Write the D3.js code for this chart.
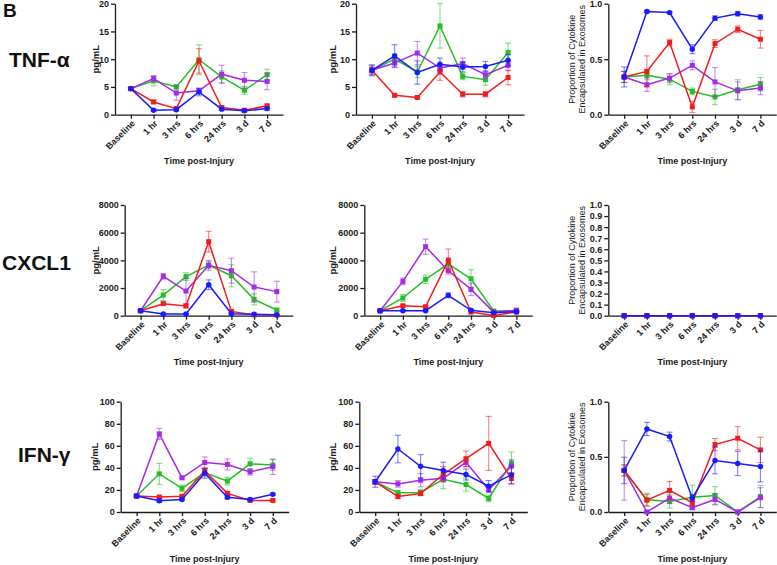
<!DOCTYPE html>
<html>
<head>
<meta charset="utf-8">
<script src="https://cdn.jsdelivr.net/npm/d3@7"></script>
<style>
  body { margin: 0; background: #fff; }
  svg { display: block; font-family: Arial, "Liberation Sans", sans-serif; }
</style>
</head>
<body>
<div id="chart"></div>
<script>
/*
 ************
 *** DATA ***
 ************
 */
var timepoints = ["Baseline", "1 hr", "3 hrs", "6 hrs", "24 hrs", "3 d", "7 d"];
var cytokines = ["TNF-\u03b1", "CXCL1", "IFN-\u03b3"];
// series order in every panel: blue, red, green, purple
var seriesNames = ["blue", "red", "green", "purple"];

var tnfTicks = [0, 5, 10, 15, 20];
var cxclTicks = [0, 2000, 4000, 6000, 8000];
var ifnTicks = [0, 20, 40, 60, 80, 100];
var propTicks = [0, 0.5, 1.0];
var propTicksFine = [0, 0.1, 0.2, 0.3, 0.4, 0.5, 0.6, 0.7, 0.8, 0.9, 1.0];

// --- TNF-alpha ---
var tnfLeftMean = [
  [4.7, 0.8, 0.9, 4.1, 1.0, 0.7, 1.1],
  [4.7, 2.3, 1.1, 9.7, 1.3, 0.8, 1.6],
  [4.7, 6.1, 5.0, 9.9, 6.8, 4.4, 7.2],
  [4.7, 6.5, 3.9, 4.3, 7.3, 6.2, 6.0],
];
var tnfLeftErr = [
  [0.2, 0.2, 0.2, 0.7, 0.2, 0.2, 0.3],
  [0.2, 0.3, 0.2, 2.2, 0.3, 0.2, 0.3],
  [0.2, 0.9, 0.4, 2.7, 1.1, 0.7, 1.0],
  [0.2, 0.5, 1.3, 0.4, 1.6, 1.4, 1.5],
];
var tnfMidMean = [
  [8.0, 10.6, 7.6, 9.1, 8.6, 8.7, 9.8],
  [8.0, 3.5, 3.1, 7.7, 3.7, 3.7, 6.7],
  [8.0, 10.0, 7.7, 16.0, 6.9, 6.3, 11.2],
  [8.0, 9.3, 11.1, 8.4, 9.2, 7.2, 8.9],
];
var tnfMidErr = [
  [1.0, 2.0, 2.1, 1.1, 0.9, 0.9, 1.0],
  [0.5, 0.3, 0.2, 1.5, 0.5, 0.5, 1.3],
  [0.8, 1.0, 1.0, 4.0, 0.6, 1.0, 1.7],
  [0.8, 0.8, 2.1, 0.6, 1.0, 0.7, 1.0],
];
var tnfRightMean = [
  [0.34, 0.93, 0.92, 0.59, 0.87, 0.91, 0.88],
  [0.34, 0.39, 0.65, 0.07, 0.64, 0.77, 0.68],
  [0.34, 0.355, 0.32, 0.21, 0.16, 0.225, 0.275],
  [0.34, 0.27, 0.33, 0.445, 0.295, 0.215, 0.24],
];
var tnfRightErr = [
  [0.09, 0.01, 0.01, 0.04, 0.02, 0.02, 0.02],
  [0.05, 0.14, 0.03, 0.05, 0.035, 0.03, 0.08],
  [0.05, 0.04, 0.05, 0.03, 0.07, 0.09, 0.06],
  [0.05, 0.06, 0.04, 0.04, 0.13, 0.08, 0.06],
];

// --- CXCL1 ---
var cxclLeftMean = [
  [360, 120, 120, 2240, 140, 100, 60],
  [360, 870, 700, 5350, 310, 60, 50],
  [360, 1490, 2820, 3660, 2890, 1180, 410],
  [360, 2840, 1780, 3640, 3250, 2070, 1740],
];
var cxclLeftErr = [
  [80, 40, 40, 350, 50, 30, 30],
  [80, 100, 100, 750, 80, 30, 30],
  [80, 400, 280, 250, 800, 400, 100],
  [80, 200, 900, 350, 900, 1100, 750],
];
var cxclMidMean = [
  [360, 360, 360, 1470, 390, 220, 290],
  [360, 720, 650, 4020, 260, 20, 260],
  [360, 1280, 2630, 3740, 2670, 340, 360],
  [360, 2480, 4990, 3250, 1900, 260, 400],
];
var cxclMidErr = [
  [60, 60, 60, 180, 60, 50, 60],
  [60, 80, 80, 800, 80, 20, 60],
  [60, 250, 300, 200, 650, 60, 60],
  [60, 250, 550, 250, 450, 60, 80],
];
var cxclRightMean = [
  [0, 0, 0, 0, 0, 0, 0],
  [0, 0, 0, 0, 0, 0, 0],
  [0, 0, 0, 0, 0, 0, 0],
  [0, 0, 0, 0, 0, 0, 0],
];
var cxclRightErr = [
  [0, 0, 0, 0, 0, 0, 0],
  [0, 0, 0, 0, 0, 0, 0],
  [0, 0, 0, 0, 0, 0, 0],
  [0, 0, 0, 0, 0, 0, 0],
];

// --- IFN-gamma ---
var ifnLeftMean = [
  [14.5, 10.2, 11.4, 35.2, 13.3, 11.4, 16.0],
  [14.5, 13.6, 14.2, 37.3, 16.9, 10.5, 10.5],
  [14.5, 34.6, 21.4, 35.8, 28.0, 43.7, 42.5],
  [14.5, 70.8, 31.0, 44.9, 43.1, 36.4, 41.0],
];
var ifnLeftErr = [
  [1.0, 1.5, 1.0, 4.5, 1.5, 1.0, 1.0],
  [1.0, 1.0, 1.0, 2.0, 1.5, 1.0, 1.0],
  [1.0, 9.5, 3.0, 3.0, 3.5, 5.0, 5.0],
  [1.0, 5.0, 1.0, 5.0, 5.0, 3.0, 7.0],
];
var ifnMidMean = [
  [27.4, 57.1, 41.5, 37.6, 34.0, 23.5, 33.7],
  [27.4, 14.1, 16.8, 34.2, 48.3, 62.2, 30.3],
  [27.4, 17.4, 17.7, 29.7, 24.9, 12.3, 44.5],
  [27.4, 25.5, 28.8, 30.6, 45.0, 20.1, 41.5],
];
var ifnMidErr = [
  [5.0, 12.5, 10.5, 7.5, 5.0, 5.0, 8.0],
  [2.0, 2.0, 2.0, 7.0, 7.0, 24.5, 5.0],
  [2.0, 2.0, 2.5, 8.5, 6.0, 3.0, 10.0],
  [2.0, 3.0, 6.0, 3.0, 4.0, 2.5, 6.0],
];
var ifnRightMean = [
  [0.377, 0.753, 0.684, 0.127, 0.467, 0.44, 0.413],
  [0.377, 0.108, 0.196, 0.084, 0.611, 0.669, 0.563],
  [0.377, 0.111, 0.096, 0.133, 0.15, 0.0, 0.14],
  [0.377, 0.0, 0.126, 0.04, 0.114, 0.0, 0.13],
];
var ifnRightErr = [
  [0.12, 0.06, 0.04, 0.03, 0.12, 0.11, 0.14],
  [0.05, 0.05, 0.08, 0.03, 0.055, 0.105, 0.115],
  [0.05, 0.06, 0.06, 0.11, 0.08, 0.0, 0.1],
  [0.27, 0.01, 0.05, 0.02, 0.05, 0.0, 0.09],
];

/*
 ************************
 *** HELPER FUNCTIONS ***
 ************************
 */
function translate(x, y) {
  return "translate(" + x + ", " + y + ")";
}

// --- One series = one colour (and one marker) ---
var colors = {
  blue: "#1a1aff",
  red: "#f21c1c",
  green: "#22c022",
  purple: "#a42ae8",
};

function fmtNumber(d) {
  return d;
}
function fmtProp(d) {
  return d3.format(".1f")(d);
}

var W = 777,
  H = 565;
var svg = d3
  .select("#chart")
  .append("svg")
  .attr("width", W)
  .attr("height", H)
  .attr("viewBox", "0 0 " + W + " " + H);

// panel layout: one row per cytokine, left / mid / right columns
var rows = [
  { top: 3.7, bottom: 114.7, labelY: 67 },
  { top: 205, bottom: 315.7, labelY: 270 },
  { top: 401.7, bottom: 512, labelY: 462 },
];
var plotW = 168;

var panels = [
  { row: 0, axisX: 115, labelX: 95, mean: tnfLeftMean, err: tnfLeftErr, ticks: tnfTicks, fmt: fmtNumber, prop: false },
  { row: 0, axisX: 356, labelX: 332, mean: tnfMidMean, err: tnfMidErr, ticks: tnfTicks, fmt: fmtNumber, prop: false },
  { row: 0, axisX: 608.3, labelX: 571.7, mean: tnfRightMean, err: tnfRightErr, ticks: propTicks, fmt: fmtProp, prop: true },
  { row: 1, axisX: 124.7, labelX: 95, mean: cxclLeftMean, err: cxclLeftErr, ticks: cxclTicks, fmt: fmtNumber, prop: false },
  { row: 1, axisX: 364.3, labelX: 332, mean: cxclMidMean, err: cxclMidErr, ticks: cxclTicks, fmt: fmtNumber, prop: false },
  { row: 1, axisX: 608.3, labelX: 571.7, mean: cxclRightMean, err: cxclRightErr, ticks: propTicksFine, fmt: fmtProp, prop: true },
  { row: 2, axisX: 120.7, labelX: 94, mean: ifnLeftMean, err: ifnLeftErr, ticks: ifnTicks, fmt: fmtNumber, prop: false },
  { row: 2, axisX: 359.3, labelX: 332, mean: ifnMidMean, err: ifnMidErr, ticks: ifnTicks, fmt: fmtNumber, prop: false },
  { row: 2, axisX: 608.3, labelX: 571.7, mean: ifnRightMean, err: ifnRightErr, ticks: propTicks, fmt: fmtProp, prop: true },
];

// --- Draw one small line chart ---
function drawPanel(p) {
  var r = rows[p.row];
  var x = d3
    .scalePoint()
    .domain(timepoints)
    .range([p.axisX, p.axisX + plotW])
    .padding(0.7);
  var y = d3
    .scaleLinear()
    .domain([p.ticks[0], p.ticks[p.ticks.length - 1]])
    .range([r.bottom, r.top]);

  var g = svg.append("g");

  // y axis
  var yAxis = g
    .append("g")
    .attr("transform", translate(p.axisX, 0))
    .call(d3.axisLeft(y).tickValues(p.ticks).tickFormat(p.fmt).tickSize(4).tickSizeOuter(0).tickPadding(2));
  // x axis
  var xAxis = g
    .append("g")
    .attr("transform", translate(0, r.bottom))
    .call(d3.axisBottom(x).tickSize(4).tickSizeOuter(0));

  [yAxis, xAxis].forEach(function (a) {
    a.select(".domain").attr("stroke", "#1a1a1a").attr("stroke-width", 1.3);
    a.selectAll(".tick line").attr("stroke", "#1a1a1a").attr("stroke-width", 1.3);
    a.selectAll("text")
      .attr("fill", "#1a1a1a")
      .attr("font-size", "9px")
      .attr("font-weight", "bold")
      .attr("font-family", "Arial, 'Liberation Sans', sans-serif");
  });

  xAxis
    .selectAll(".tick text")
    .attr("x", 0)
    .attr("y", 0)
    .attr("dy", "0.35em")
    .attr("text-anchor", "end")
    .attr("transform", "translate(2, 7) rotate(-45)");

  // axis titles
  g.append("text")
    .attr("x", p.axisX + plotW / 2)
    .attr("y", r.bottom + 49.5)
    .attr("text-anchor", "middle")
    .attr("font-size", "9px")
    .attr("font-weight", "bold")
    .attr("fill", "#1a1a1a")
    .text("Time post-Injury");

  var midY = (r.top + r.bottom) / 2;
  if (p.prop) {
    var lbl = g
      .append("text")
      .attr("transform", translate(p.labelX + 3, midY) + " rotate(-90)")
      .attr("text-anchor", "middle")
      .attr("font-size", "9px")
      .attr("fill", "#1a1a1a");
    lbl.append("tspan").attr("x", 0).attr("dy", 0).text("Proportion of Cytokine");
    lbl.append("tspan").attr("x", 0).attr("dy", 10).text("Encapsulated in Exosomes");
  } else {
    g.append("text")
      .attr("transform", translate(p.labelX + 3.5, midY) + " rotate(-90)")
      .attr("text-anchor", "middle")
      .attr("font-size", "9.5px")
      .attr("font-weight", "bold")
      .attr("fill", "#1a1a1a")
      .text("pg/mL");
  }

  // series: green, purple, red, then blue on top
  var order = [2, 3, 1, 0];
  order.forEach(function (s) {
    var name = seriesNames[s];
    var col = colors[name];
    var pts = timepoints.map(function (t, i) {
      return { t: t, v: p.mean[s][i], e: p.err[s][i] };
    });
    var sg = g.append("g").attr("class", "series_" + name);

    // error bars (lighter)
    var eb = sg
      .selectAll(".err")
      .data(pts)
      .enter()
      .append("g")
      .attr("class", "err")
      .attr("stroke", col)
      .attr("stroke-opacity", 0.55)
      .attr("stroke-width", 1.1);
    eb.append("line")
      .attr("x1", function (d) { return x(d.t); })
      .attr("x2", function (d) { return x(d.t); })
      .attr("y1", function (d) { return y(d.v - d.e); })
      .attr("y2", function (d) { return y(d.v + d.e); });
    [-1, 1].forEach(function (k) {
      eb.append("line")
        .attr("x1", function (d) { return x(d.t) - 3; })
        .attr("x2", function (d) { return x(d.t) + 3; })
        .attr("y1", function (d) { return y(d.v + k * d.e); })
        .attr("y2", function (d) { return y(d.v + k * d.e); });
    });

    // line
    sg.append("path")
      .datum(pts)
      .attr("fill", "none")
      .attr("stroke", col)
      .attr("stroke-width", 1.5)
      .attr("d", d3.line()
        .x(function (d) { return x(d.t); })
        .y(function (d) { return y(d.v); }));

    // markers
    if (name == "blue") {
      sg.selectAll(".pt")
        .data(pts)
        .enter()
        .append("circle")
        .attr("cx", function (d) { return x(d.t); })
        .attr("cy", function (d) { return y(d.v); })
        .attr("r", 2.7)
        .attr("fill", col);
    } else {
      sg.selectAll(".pt")
        .data(pts)
        .enter()
        .append("rect")
        .attr("x", function (d) { return x(d.t) - 2.5; })
        .attr("y", function (d) { return y(d.v) - 2.5; })
        .attr("width", 5)
        .attr("height", 5)
        .attr("fill", col);
    }
  });
}

panels.forEach(drawPanel);

// --- Row labels and panel letter ---
svg.append("text")
  .attr("x", 3)
  .attr("y", 17)
  .attr("font-size", "19px")
  .attr("font-weight", "bold")
  .attr("fill", "#111")
  .text("B");

var rowLabelX = [9, 2, 18];
cytokines.forEach(function (c, i) {
  svg.append("text")
    .attr("x", rowLabelX[i])
    .attr("y", rows[i].labelY)
    .attr("font-size", "21px")
    .attr("font-weight", "bold")
    .attr("fill", "#111")
    .text(c);
});
</script>
</body>
</html>
